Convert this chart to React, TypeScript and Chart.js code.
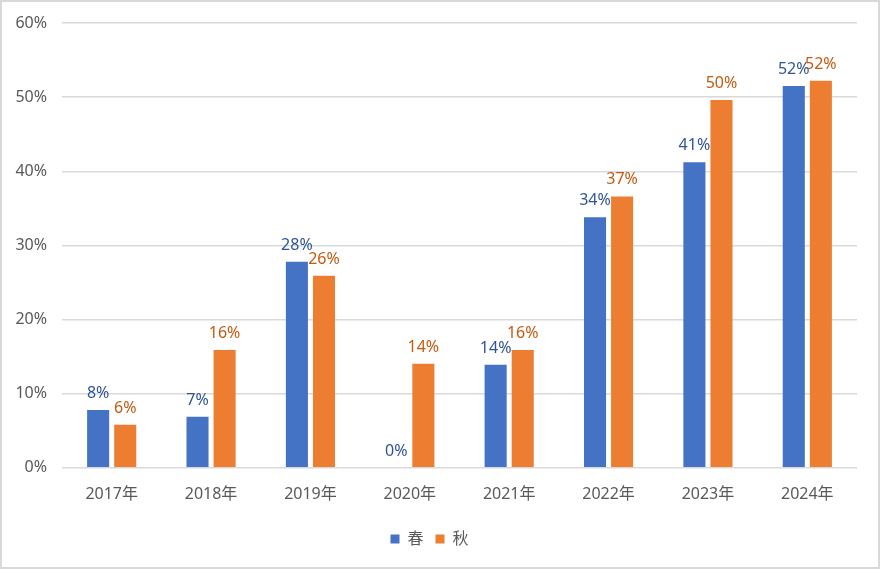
import React, { useEffect, useRef } from "react";
import { Chart, registerables } from "chart.js";

Chart.register(...registerables);

const categories = ["2017年", "2018年", "2019年", "2020年", "2021年", "2022年", "2023年", "2024年"];
const springValues = [7.8, 6.9, 27.8, 0, 13.9, 33.8, 41.2, 51.5];
const autumnValues = [5.8, 15.9, 25.9, 14.05, 15.9, 36.6, 49.6, 52.2];
const seriesNames = ["春", "秋"];
const yTicks = [0, 10, 20, 30, 40, 50, 60];

const FONT = '"Noto Sans", "Noto Sans CJK JP", sans-serif';

const labelPlugin = {
  id: "barLabels",
  afterDatasetsDraw(chart: any) {
    const ctx = chart.ctx;
    const colors = ["#2F5597", "#C55A11"];
    chart.data.datasets.forEach((ds: any, di: number) => {
      const meta = chart.getDatasetMeta(di);
      meta.data.forEach((bar: any, i: number) => {
        const v = ds.data[i];
        ctx.save();
        ctx.font = `16px ${FONT}`;
        ctx.fillStyle = colors[di];
        ctx.textAlign = "center";
        ctx.textBaseline = "alphabetic";
        ctx.fillText(Math.round(v) + "%", bar.x, bar.y - 12);
        ctx.restore();
      });
    });
  },
};

export default function App() {
  const ref = useRef<HTMLCanvasElement>(null);
  useEffect(() => {
    document.body.style.margin = "0";
    const chart = new Chart(ref.current!, {
      type: "bar",
      data: {
        labels: categories,
        datasets: [
          { label: seriesNames[0], data: springValues, backgroundColor: "#4472C4", barPercentage: 0.815, categoryPercentage: 0.545 },
          { label: seriesNames[1], data: autumnValues, backgroundColor: "#ED7D31", barPercentage: 0.815, categoryPercentage: 0.545 },
        ],
      },
      options: {
        animation: false,
        responsive: false,
        layout: { padding: { top: 21, right: 21, left: 0, bottom: 10 } },
        plugins: {
          tooltip: { enabled: false },
          legend: {
            position: "bottom",
            labels: {
              boxWidth: 9,
              boxHeight: 9,
              padding: 12,
              color: "#595959",
              font: { family: FONT, size: 16 },
            },
          },
        },
        scales: {
          x: {
            afterFit: (s: any) => { s.height = s.height + 6; s.paddingLeft = 0; s.paddingRight = 0; },
            grid: { display: false },
            border: { display: false },
            ticks: { color: "#595959", font: { family: FONT, size: 16 }, padding: 9 },
          },
          y: {
            min: 0,
            max: 60,
            afterFit: (s: any) => { s.width = 60; s.paddingTop = 0; s.paddingBottom = 0; },
            afterBuildTicks: (s: any) => { s.ticks = yTicks.map((v) => ({ value: v })); },
            grid: { color: "#D9D9D9", lineWidth: 1.5, drawTicks: false },
            border: { display: false },
            ticks: {
              color: "#595959",
              font: { family: FONT, size: 16 },
              padding: 15,
              callback: (v: any) => v + "%",
            },
          },
        },
      },
      plugins: [labelPlugin],
    });
    return () => chart.destroy();
  }, []);
  return (
    <div style={{ position: "absolute", left: 0, top: 0, width: 880, height: 569, boxSizing: "border-box", border: "2px solid #D9D9D9", background: "#fff" }}>
      <canvas ref={ref} width={876} height={565} style={{ display: "block" }} />
    </div>
  );
}
